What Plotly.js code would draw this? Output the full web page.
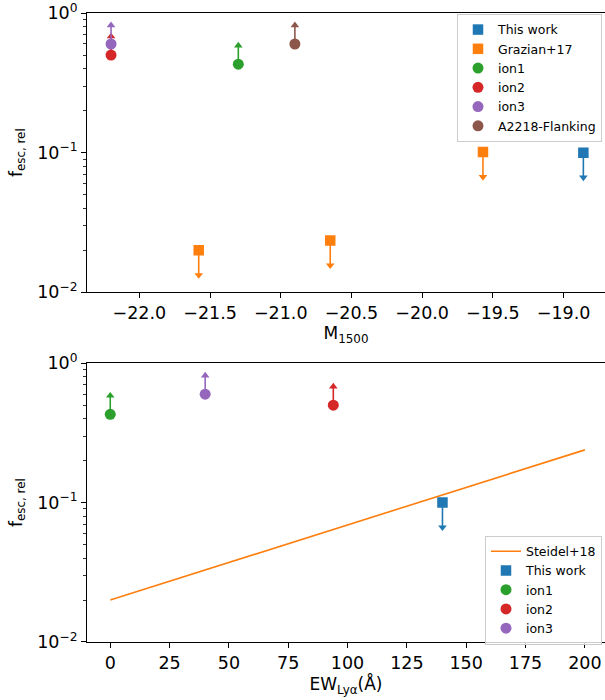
<!DOCTYPE html>
<html>
<head>
<meta charset="utf-8">
<script src="https://cdn.plot.ly/plotly-3.0.1.min.js"></script>
<style>html,body{margin:0;padding:0;background:#fff}#chart{width:605px;height:700px}</style>
</head>
<body>
<div id="chart"></div>
<script>
// ---------- data ----------
// Top panel: M1500 vs f_esc,rel
const thisWorkM = [-18.86];
const thisWorkF = [0.1];
const thisWorkErr = [0.0335];          // upper limit (arrow down)

const grazianM = [-21.58, -20.65, -19.57];
const grazianF = [0.020, 0.0235, 0.101];
const grazianErr = [0.0067, 0.0079, 0.034]; // upper limits (arrow down)

const ion1M = [-21.3];
const ion1F = [0.43];
const ion1Err = [0.155];               // lower limit (arrow up)

const ion2M = [-22.2];
const ion2F = [0.5];
const ion2Err = [0.18];

const ion3M = [-22.2];
const ion3F = [0.6];
const ion3Err = [0.216];

const a2218M = [-20.9];
const a2218F = [0.6];
const a2218Err = [0.216];

// Bottom panel: EW(Lya) vs f_esc,rel
const steidelEW = [0, 200];
const steidelF = [0.02, 0.239];

const thisWorkEW = [140];
const ion1EW = [0];
const ion2EW = [94];
const ion3EW = [40];

// ticks
const topXTicks = [-22.0, -21.5, -21.0, -20.5, -20.0, -19.5, -19.0];
const botXTicks = [0, 25, 50, 75, 100, 125, 150, 175, 200];
const yTickVals = [0.01, 0.1, 1];
const yTickText = ['10<sup>−2</sup>', '10<sup>−1</sup>', '10<sup>0</sup>'];

// ---------- styles ----------
const C = {blue:'#1f77b4', orange:'#ff7f0e', green:'#2ca02c', red:'#d62728', purple:'#9467bd', brown:'#8c564b'};
const FONT = 'DejaVu Sans, sans-serif';

const minorVals = [];
[0.01, 0.1].forEach(d => { for (let k = 2; k <= 9; k++) minorVals.push(d * k); });

function limitTraces(x, y, err, color, name, symbol, dir, xa, ya, lg, showleg) {
  const zeros = err.map(() => 0);
  const main = {
    type: 'scatter', mode: 'markers', x: x, y: y, name: name,
    xaxis: xa, yaxis: ya, legend: lg, showlegend: showleg,
    marker: {color: color, symbol: symbol, size: symbol === 'square' ? 10.5 : 11},
    error_y: {type: 'data', symmetric: false,
      array: dir > 0 ? err : zeros,
      arrayminus: dir > 0 ? zeros : err,
      color: color, thickness: 1.6, width: 0}
  };
  const tipY = y.map((v, i) => dir > 0 ? v + err[i] : v - err[i]);
  const tip = {
    type: 'scatter', mode: 'markers', x: x, y: tipY,
    xaxis: xa, yaxis: ya, showlegend: false, hoverinfo: 'skip',
    marker: {color: color, symbol: dir > 0 ? 'triangle-up' : 'triangle-down', size: 7.5}
  };
  return [main, tip];
}

const data = [].concat(
  // top panel
  limitTraces(thisWorkM, thisWorkF, thisWorkErr, C.blue, 'This work', 'square', -1, 'x', 'y', 'legend', true),
  limitTraces(grazianM, grazianF, grazianErr, C.orange, 'Grazian+17', 'square', -1, 'x', 'y', 'legend', true),
  limitTraces(ion1M, ion1F, ion1Err, C.green, 'ion1', 'circle', 1, 'x', 'y', 'legend', true),
  limitTraces(ion2M, ion2F, ion2Err, C.red, 'ion2', 'circle', 1, 'x', 'y', 'legend', true),
  limitTraces(ion3M, ion3F, ion3Err, C.purple, 'ion3', 'circle', 1, 'x', 'y', 'legend', true),
  limitTraces(a2218M, a2218F, a2218Err, C.brown, 'A2218-Flanking', 'circle', 1, 'x', 'y', 'legend', true),
  // bottom panel
  [{type: 'scatter', mode: 'lines', x: steidelEW, y: steidelF, name: 'Steidel+18',
    xaxis: 'x2', yaxis: 'y2', legend: 'legend2', line: {color: C.orange, width: 1.6}}],
  limitTraces(thisWorkEW, thisWorkF, thisWorkErr, C.blue, 'This work', 'square', -1, 'x2', 'y2', 'legend2', true),
  limitTraces(ion1EW, ion1F, ion1Err, C.green, 'ion1', 'circle', 1, 'x2', 'y2', 'legend2', true),
  limitTraces(ion2EW, ion2F, ion2Err, C.red, 'ion2', 'circle', 1, 'x2', 'y2', 'legend2', true),
  limitTraces(ion3EW, ion3F, ion3Err, C.purple, 'ion3', 'circle', 1, 'x2', 'y2', 'legend2', true)
);

const TICKSIZE = 17.5;
const xCommon = {
  showline: true, linecolor: '#000', linewidth: 1, mirror: true,
  ticks: 'outside', ticklen: 5, tickwidth: 1, tickcolor: '#000',
  showgrid: false, zeroline: false, tickmode: 'array',
  tickfont: {size: TICKSIZE, color: '#000', family: FONT},
  title: {font: {size: 17, color: '#000', family: FONT}, standoff: 1}
};
const yCommon = {
  type: 'log', range: [-2, 0],
  showline: true, linecolor: '#000', linewidth: 1,
  ticks: 'outside', ticklen: 5, tickwidth: 1, tickcolor: '#000',
  showgrid: false, zeroline: false,
  tickmode: 'array', tickvals: yTickVals, ticktext: yTickText,
  minor: {tickvals: minorVals, ticks: 'outside', ticklen: 3, tickwidth: 0.8, tickcolor: '#000', showgrid: false},
  tickfont: {size: TICKSIZE, color: '#000', family: FONT},
  title: {text: 'f<sub>esc, rel</sub>', font: {size: 17, color: '#000', family: FONT}, standoff: 10}
};

const legendCommon = {
  bgcolor: 'rgba(255,255,255,0.8)', bordercolor: '#cccccc', borderwidth: 1,
  font: {size: 12.5, color: '#000', family: FONT},
  xanchor: 'right', yanchor: 'top', tracegroupgap: 0, itemwidth: 30
};

const layout = {
  width: 605, height: 700,
  margin: {l: 87, r: 0, t: 12.5, b: 57.5},
  paper_bgcolor: '#fff', plot_bgcolor: '#fff',
  font: {family: FONT, color: '#000'},
  xaxis: Object.assign({}, xCommon, {
    domain: [0, 1], anchor: 'y', range: [-22.37, -18.707],
    tickvals: topXTicks, tickformat: '.1f',
    title: Object.assign({}, xCommon.title, {text: 'M<sub>1500</sub>'})
  }),
  yaxis: Object.assign({}, yCommon, {domain: [0.5559, 1], anchor: 'x'}),
  xaxis2: Object.assign({}, xCommon, {
    domain: [0, 1], anchor: 'y2', range: [-9.8, 208.5],
    tickvals: botXTicks,
    title: Object.assign({}, xCommon.title, {text: 'EW<sub>Lyα</sub>(Å)'})
  }),
  yaxis2: Object.assign({}, yCommon, {domain: [0, 0.4432], anchor: 'x2'}),
  legend: Object.assign({}, legendCommon, {x: 0.9942, y: 0.9985}),
  legend2: Object.assign({}, legendCommon, {x: 0.9942, y: 0.1692}),
  showlegend: true
};

Plotly.newPlot('chart', data, layout, {displayModeBar: false, staticPlot: true});
</script>
</body>
</html>
